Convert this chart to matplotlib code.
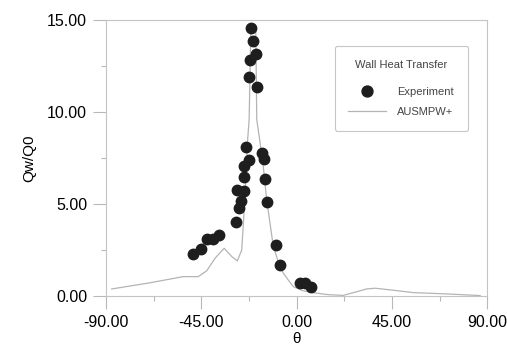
import matplotlib
matplotlib.use("Agg")
import matplotlib.pyplot as plt
from matplotlib.ticker import MultipleLocator

plt.rcParams['font.family'] = ['Liberation Sans', 'DejaVu Sans']

# Experiment (measured wall heat transfer)
exp_theta = [-48.7, -45.3, -42.1, -39.3, -36.5, -28.7, -27.0, -26.2, -28.0, -24.9,
             -24.9, -24.8, -22.4, -24.0, -22.3, -21.8, -21.6, -20.5, -19.1, -18.5,
             -16.4, -15.5, -14.7, -13.9, -9.8, -7.8, 1.5, 4.0, 7.0]
exp_q = [2.30, 2.57, 3.08, 3.11, 3.33, 4.01, 4.77, 5.18, 5.77, 5.68,
         6.48, 7.07, 7.39, 8.11, 11.87, 12.84, 14.55, 13.85, 13.17, 11.37,
         7.79, 7.43, 6.33, 5.09, 2.79, 1.67, 0.69, 0.69, 0.47]

# AUSMPW+ computation
cfd_theta = [-87.3, -70.0, -53.5, -46.4, -42.4, -38.5, -34.2, -30.6, -28.0, -25.9,
             -24.3, -23.1, -22.4, -22.0, -21.6, -20.5, -19.3, -18.8, -17.2, -15.7,
             -14.1, -11.0, -8.5, -6.2, -3.5, -1.5, 3.0, 9.5, 15.0, 22.0,
             28.4, 33.0, 37.1, 44.2, 55.2, 71.0, 86.7]
cfd_q = [0.38, 0.70, 1.05, 1.05, 1.37, 2.05, 2.59, 2.14, 1.90, 2.50,
         5.50, 8.50, 9.60, 12.0, 14.70, 14.75, 14.60, 9.57, 8.30, 7.00,
         5.20, 2.70, 1.80, 1.23, 0.80, 0.50, 0.28, 0.15, 0.07, 0.03,
         0.23, 0.38, 0.42, 0.33, 0.18, 0.11, 0.02]

fig = plt.figure(figsize=(5.07, 3.49), dpi=100)
ax = fig.add_axes([0.209, 0.152, 0.752, 0.791])

ax.plot(cfd_theta, cfd_q, color='#b4b4b4', lw=0.9, label='AUSMPW+')
ax.plot(exp_theta, exp_q, 'o', color='#1e1e1e', ms=7.5, mec='#1e1e1e',
        label='Experiment')

ax.set_xlim(-90, 90)
ax.set_ylim(0, 15)
ax.xaxis.set_major_locator(MultipleLocator(45))
ax.xaxis.set_minor_locator(MultipleLocator(22.5))
ax.yaxis.set_major_locator(MultipleLocator(5))
ax.yaxis.set_minor_locator(MultipleLocator(2.5))
ax.xaxis.set_major_formatter(lambda v, p: f"{v:.2f}")
ax.yaxis.set_major_formatter(lambda v, p: f"{v:.2f}")

for s in ax.spines.values():
    s.set_color('#c4c4c4')
    s.set_linewidth(0.8)
ax.tick_params(which='major', length=9.5, width=0.8, color='#b8b8b8',
               labelsize=11.5, pad=4)
ax.tick_params(which='minor', length=3.5, width=0.8, color='#b8b8b8')

ax.set_xlabel('θ', fontsize=11, labelpad=2)
ax.set_ylabel('Qw/Q0', fontsize=11, labelpad=8)

h, l = ax.get_legend_handles_labels()
leg = ax.legend(h[::-1], l[::-1], title='Wall Heat Transfer', loc='upper left',
                bbox_to_anchor=(0.585, 0.925), fontsize=8, title_fontsize=8,
                frameon=True, fancybox=True, edgecolor='#b8b8b8',
                handlelength=3.4, handletextpad=1.0, labelspacing=0.9,
                borderpad=1.25, markerscale=1.05)
leg._legend_box.sep = 12  # extra gap under the title
leg.get_frame().set_linewidth(0.8)
for t in leg.get_texts():
    t.set_color('#444444')
leg.get_title().set_color('#444444')

fig.savefig('out.png', dpi=100)
